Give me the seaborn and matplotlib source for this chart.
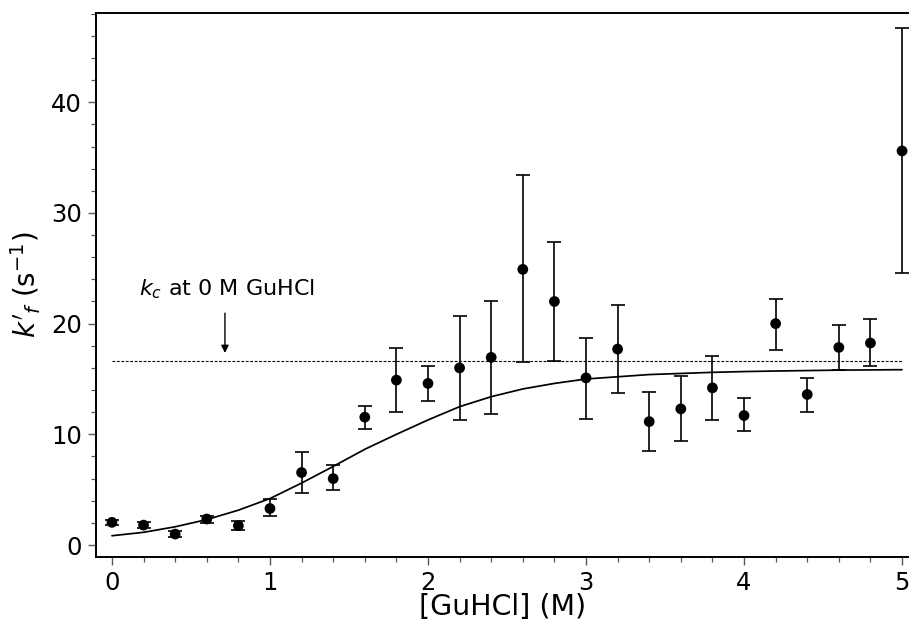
import numpy as np
import pandas as pd
import matplotlib
matplotlib.use("Agg")
import matplotlib.pyplot as plt
import seaborn as sns

# measured folding rates vs denaturant
conc = [0.0, 0.2, 0.4, 0.6, 0.8, 1.0, 1.2, 1.4, 1.6, 1.8, 2.0, 2.2, 2.4,
        2.6, 2.8, 3.0, 3.2, 3.4, 3.6, 3.8, 4.0, 4.2, 4.4, 4.6, 4.8, 5.0]
kf = [2.05, 1.8, 0.99, 2.35, 1.75, 3.3, 6.55, 6.0, 11.55, 14.9, 14.6, 16.0, 16.95,
      24.9, 22.0, 15.1, 17.7, 11.15, 12.3, 14.2, 11.7, 20.0, 13.6, 17.85, 18.25, 35.6]
kf_low = [1.85, 1.5, 0.75, 1.99, 1.33, 2.59, 4.72, 4.94, 10.5, 12.0, 13.0, 11.3, 11.8,
          16.5, 16.6, 11.4, 13.7, 8.5, 9.4, 11.3, 10.3, 17.6, 12.0, 15.8, 16.2, 24.6]
kf_high = [2.25, 2.05, 1.24, 2.6, 2.2, 4.13, 8.43, 7.23, 12.6, 17.8, 16.2, 20.7, 22.0,
           33.4, 27.4, 18.7, 21.65, 13.8, 15.3, 17.1, 13.3, 22.2, 15.1, 19.85, 20.4, 46.7]

# fitted curve
fit_conc = [0.0, 0.2, 0.4, 0.6, 0.8, 1.0, 1.2, 1.4, 1.6, 1.8, 2.0, 2.2, 2.4,
            2.6, 2.8, 3.0, 3.2, 3.4, 3.6, 3.8, 4.0, 4.2, 4.4, 4.6, 4.8, 5.0]
fit_kf = [0.84, 1.15, 1.65, 2.3, 3.15, 4.2, 5.6, 7.1, 8.65, 10.0, 11.3, 12.5, 13.4,
          14.1, 14.6, 15.0, 15.2, 15.4, 15.5, 15.6, 15.67, 15.72, 15.76, 15.8, 15.82, 15.84]

kc = 16.63  # k_c at 0 M GuHCl

df = pd.DataFrame({"conc": conc, "kf": kf})
fit_df = pd.DataFrame({"conc": fit_conc, "kf": fit_kf})

sns.set_theme(style="ticks")
plt.rcParams["font.family"] = ["DejaVu Sans"]
plt.rcParams["mathtext.fontset"] = "dejavusans"
plt.rcParams["text.color"] = "black"
plt.rcParams["axes.labelcolor"] = "black"

fig = plt.figure(figsize=(9.09, 6.22), dpi=100)
ax = fig.add_axes([96 / 909, 65 / 622, 813 / 909, 544 / 622])

yerr = [np.array(kf) - np.array(kf_low), np.array(kf_high) - np.array(kf)]
ax.errorbar(conc, kf, yerr=yerr, fmt="none", ecolor="black",
            elinewidth=1.2, capsize=4.7, capthick=1.2, zorder=2)
sns.lineplot(data=fit_df, x="conc", y="kf", color="black", lw=1.25, ax=ax, zorder=3)
sns.scatterplot(data=df, x="conc", y="kf", color="black", s=60, edgecolor="none",
                ax=ax, zorder=4)

ax.plot([0, 5], [kc, kc], color="black", lw=0.8, linestyle=(0, (2.5, 1.5)), zorder=1)
ax.annotate("", xy=(0.715, 17.1), xytext=(0.715, 21.2),
            arrowprops=dict(arrowstyle="-|>", color="black", lw=1.0, mutation_scale=11))
ax.text(0.73, 23.1, "$k_c$ at 0 M GuHCl", ha="center", va="center", fontsize=16)

ax.set_xlim(-0.101, 5.044)
ax.set_ylim(-1.08, 48.06)
ax.set_xticks([0, 1, 2, 3, 4, 5])
ax.set_xticks(np.arange(0, 5.01, 0.2), minor=True)
ax.set_yticks([0, 10, 20, 30, 40])
ax.set_yticks(np.arange(0, 48.1, 2), minor=True)

ax.tick_params(axis="both", which="major", labelsize=17.5, length=6, width=1.0,
               color="0.35", labelcolor="black", pad=4)
ax.tick_params(axis="both", which="minor", length=3.8, width=0.9, color="0.35")

ax.set_xlabel("[GuHCl] (M)", fontsize=20.5, labelpad=-1.5)
ax.set_ylabel("$k'_f$ (s$^{-1}$)", fontsize=20, labelpad=6)

for side in ["left", "bottom", "top"]:
    ax.spines[side].set_linewidth(1.4)
    ax.spines[side].set_color("black")
ax.spines["right"].set_visible(False)

fig.savefig("out.png", dpi=100)
